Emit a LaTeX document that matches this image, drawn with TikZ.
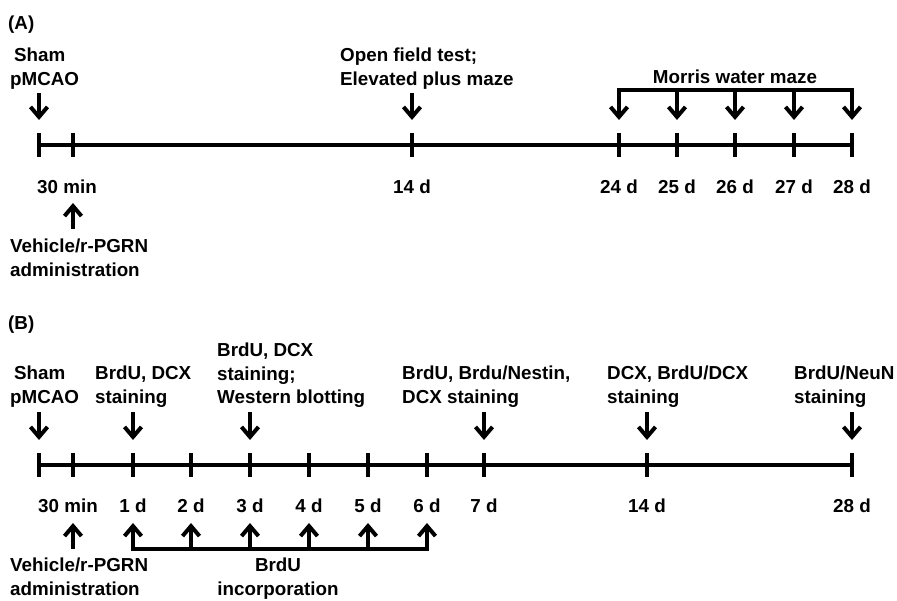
\documentclass[tikz,border=0pt]{standalone}
\usepackage{fontspec}
\setmainfont{Liberation Sans}
\usetikzlibrary{arrows.meta, positioning}

\begin{document}
\begin{tikzpicture}[
    x=1pt, y=1pt,
    axis/.style={line width=4pt},
    tickmark/.style={line width=4pt},
    bracket/.style={line width=4pt, line cap=rect},
    pointer/.style={line width=4pt, -{Straight Barb[length=10pt, width=17pt]}},
    lbl/.style={font=\fontsize{18.8}{23.5}\selectfont\bfseries, align=left, inner sep=0pt, anchor=north west},
    day/.style={font=\fontsize{18.8}{23.5}\selectfont\bfseries, inner sep=0pt, anchor=base},
    panel/.style={font=\fontsize{18.8}{23.5}\selectfont\bfseries, inner sep=0pt, anchor=base west}
]
    \useasboundingbox (0,0) rectangle (897,600);

    % Panel A
    \node (titleA) [panel] at (8,570) {(A)};

    % Timeline A
    \coordinate (a0) at (39,455);
    \coordinate (a1) at (73,455);
    \coordinate (a14) at (412,455);
    \coordinate (a24) at (619,455);
    \coordinate (a25) at (677,455);
    \coordinate (a26) at (735,455);
    \coordinate (a27) at (794,455);
    \coordinate (a28) at (852,455);
    \draw [axis] (a0) -- (a28);
    \foreach \t in {a0,a1,a14,a24,a25,a26,a27,a28}
        \draw [tickmark] ([yshift=12pt]\t) -- ([yshift=-12pt]\t);

    % Labels above A
    \node (shamA) [lbl] at (10,552) {\hspace*{4pt}Sham\\pMCAO};
    \node (fieldA) [lbl] at (340,552) {Open field test;\\Elevated plus maze};
    \node (morris) [day] at (735,516) {Morris water maze};

    % Arrows above A
    \draw [pointer] ([yshift=52pt]a0) -- ([yshift=25pt]a0);
    \draw [pointer] ([yshift=52pt]a14) -- ([yshift=25pt]a14);
    \draw [bracket] ([yshift=55pt]a24) -- ([yshift=55pt]a28);
    \foreach \t in {a24,a25,a26,a27,a28}
        \draw [pointer] ([yshift=55pt]\t) -- ([yshift=25pt]\t);

    % Days A
    \node (tA1) [day] at ([xshift=-6pt, yshift=-49pt]a1) {30 min};
    \node (tA14) [day] at ([yshift=-49pt]a14) {14 d};
    \node (tA24) [day] at ([yshift=-49pt]a24) {24 d};
    \node (tA25) [day] at ([yshift=-49pt]a25) {25 d};
    \node (tA26) [day] at ([yshift=-49pt]a26) {26 d};
    \node (tA27) [day] at ([yshift=-49pt]a27) {27 d};
    \node (tA28) [day] at ([yshift=-49pt]a28) {28 d};

    % Treatment A
    \draw [pointer] ([yshift=-84pt]a1) -- ([yshift=-58pt]a1);
    \node (vehA) [lbl] at (10,361) {Vehicle/r-PGRN\\administration};

    % Panel B
    \node (titleB) [panel] at (8,270) {(B)};

    % Timeline B
    \coordinate (b0) at (39,135);
    \coordinate (b1) at (73,135);
    \coordinate (b2) at (133,135);
    \coordinate (b3) at (191,135);
    \coordinate (b4) at (250,135);
    \coordinate (b5) at (309,135);
    \coordinate (b6) at (368,135);
    \coordinate (b7) at (427,135);
    \coordinate (b8) at (484,135);
    \coordinate (b9) at (647,135);
    \coordinate (b10) at (852,135);
    \draw [axis] (b0) -- (b10);
    \foreach \t in {b0,b1,b2,b3,b4,b5,b6,b7,b8,b9,b10}
        \draw [tickmark] ([yshift=12pt]\t) -- ([yshift=-12pt]\t);

    % Labels above B
    \node (shamB) [lbl] at (10,234) {\hspace*{4pt}Sham\\pMCAO};
    \node (stain1) [lbl] at (95,234) {BrdU, DCX\\staining};
    \node (stain3) [lbl] at (217,257) {BrdU, DCX\\staining;\\Western blotting};
    \node (stain7) [lbl] at (402,234) {BrdU, Brdu/Nestin,\\DCX staining};
    \node (stain14) [lbl] at (607,234) {DCX, BrdU/DCX\\staining};
    \node (stain28) [lbl] at (794,234) {BrdU/NeuN\\staining};

    % Arrows above B
    \foreach \t in {b0,b2,b4,b8,b9,b10}
        \draw [pointer] ([yshift=53pt]\t) -- ([yshift=25pt]\t);

    % Days B
    \node (tB1) [day] at ([xshift=-5pt, yshift=-47pt]b1) {30 min};
    \node (tB2) [day] at ([yshift=-47pt]b2) {1 d};
    \node (tB3) [day] at ([yshift=-47pt]b3) {2 d};
    \node (tB4) [day] at ([yshift=-47pt]b4) {3 d};
    \node (tB5) [day] at ([yshift=-47pt]b5) {4 d};
    \node (tB6) [day] at ([yshift=-47pt]b6) {5 d};
    \node (tB7) [day] at ([yshift=-47pt]b7) {6 d};
    \node (tB8) [day] at ([yshift=-47pt]b8) {7 d};
    \node (tB9) [day] at ([yshift=-47pt]b9) {14 d};
    \node (tB10) [day] at ([yshift=-47pt]b10) {28 d};

    % Treatment and BrdU below B
    \draw [pointer] ([yshift=-84pt]b1) -- ([yshift=-58pt]b1);
    \draw [bracket] ([yshift=-84pt]b2) -- ([yshift=-84pt]b7);
    \foreach \t in {b2,b3,b4,b5,b6,b7}
        \draw [pointer] ([yshift=-84pt]\t) -- ([yshift=-58pt]\t);
    \node (vehB) [lbl] at (10,42) {Vehicle/r-PGRN\\administration};
    \node (brdu) [lbl, align=center, anchor=north] at (278,42) {BrdU\\incorporation};

\end{tikzpicture}
\end{document}
